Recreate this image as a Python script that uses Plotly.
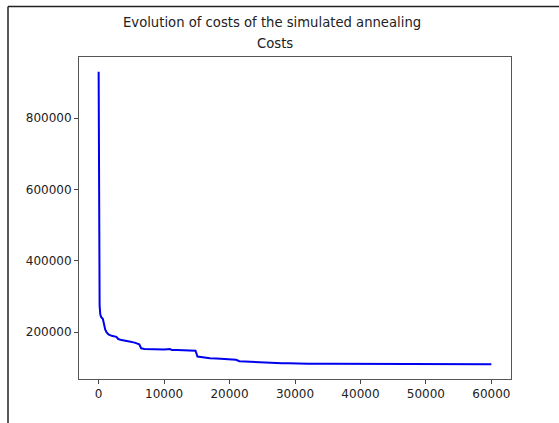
import plotly.graph_objects as go

# Data (iteration, best cost)
iterations = [0, 30, 80, 150, 250, 400, 650, 800, 1000, 1200, 1500, 2000, 2700, 3000,
              3500, 4500, 5500, 6200, 6500, 7000, 8000, 9000, 10000, 10900, 11200,
              12000, 13000, 14000, 14800, 15100, 16000, 17000, 18000, 19000, 20000,
              21000, 21500, 22000, 23000, 24000, 25000, 26000, 27000, 28000, 29000,
              30000, 32000, 35000, 40000, 45000, 50000, 55000, 60000]
costs = [930000, 600000, 350000, 275000, 250000, 242000, 237000, 222000, 208000, 200000,
         194000, 190000, 187000, 181000, 178000, 175000, 171000, 166000, 155000, 153000,
         152000, 151000, 151500, 153000, 150000, 150500, 149500, 149000, 148000, 132000,
         129000, 127000, 126500, 125000, 124000, 123000, 119000, 118500, 117500, 115500,
         114500, 114000, 113500, 113000, 113200, 112500, 112000, 111500, 111000, 110800,
         110500, 110200, 110000]
x_ticks = [0, 10000, 20000, 30000, 40000, 50000, 60000]
y_ticks = [200000, 400000, 600000, 800000]

W, H = 559, 423
ml, mr, mt, mb = 79, 48, 57, 44

xmin, xmax = min(iterations), max(iterations)
ymin, ymax = min(costs), max(costs)
xpad = 0.05 * (xmax - xmin)
ypad = 0.05 * (ymax - ymin)

fig = go.Figure(go.Scatter(x=iterations, y=costs, mode="lines",
                           line=dict(color="#0000ee", width=2), showlegend=False))

pw, ph = W - ml - mr, H - mt - mb
def px_x(p):
    return (p - ml) / pw
def px_y(p):
    return 1 - (p - mt) / ph

axis_common = dict(showgrid=False, zeroline=False, showline=True, linecolor="#555",
                   linewidth=1, mirror=True, ticks="outside", ticklen=4, tickwidth=1,
                   tickcolor="#444", tickformat="d",
                   tickfont=dict(family="DejaVu Sans", size=12, color="#222"))

fig.update_layout(
    width=W, height=H,
    margin=dict(l=ml, r=mr, t=mt, b=mb),
    paper_bgcolor="white", plot_bgcolor="white",
    xaxis=dict(range=[xmin - xpad, xmax + xpad], tickvals=x_ticks, **axis_common),
    yaxis=dict(range=[ymin - ypad, ymax + ypad], tickvals=y_ticks, **axis_common),
    font=dict(family="DejaVu Sans", color="#222"),
    annotations=[
        dict(text="Evolution of costs of the simulated annealing", xref="paper", yref="paper",
             x=px_x(272), y=px_y(23), showarrow=False, xanchor="center", yanchor="middle",
             font=dict(size=13.2, family="DejaVu Sans", color="#222")),
        dict(text="Costs", xref="paper", yref="paper",
             x=px_x(275), y=px_y(44), showarrow=False, xanchor="center", yanchor="middle",
             font=dict(size=13.2, family="DejaVu Sans", color="#222")),
    ],
    shapes=[
        dict(type="line", xref="paper", yref="paper", x0=px_x(8), x1=px_x(W + 2),
             y0=px_y(6.5), y1=px_y(6.5), line=dict(color="#222", width=1.5)),
        dict(type="line", xref="paper", yref="paper", x0=px_x(8), x1=px_x(8),
             y0=px_y(6.5), y1=px_y(H + 2), line=dict(color="#222", width=1.5)),
    ],
)

fig.write_html("out.html")
